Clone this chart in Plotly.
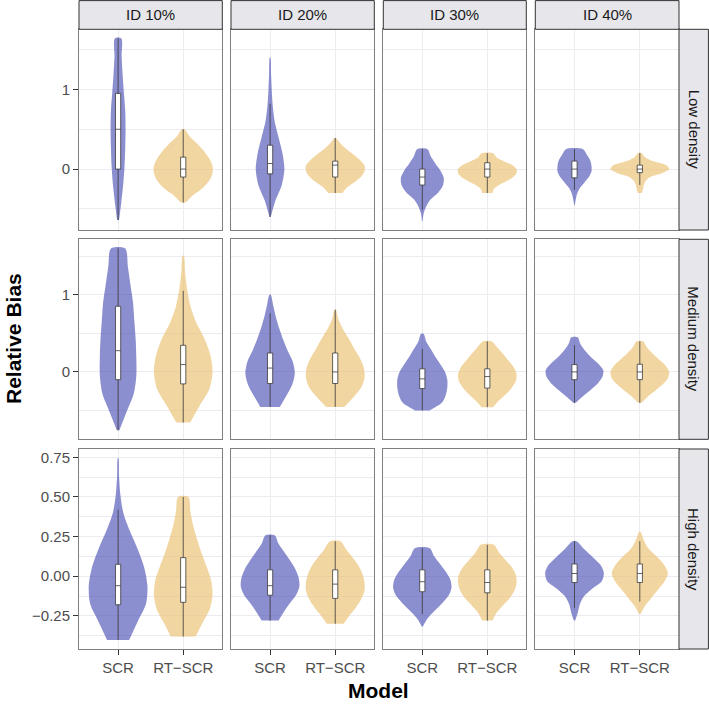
import numpy as np
import plotly.graph_objects as go

# ---------------- data ----------------
ROWS = ["Low density", "Medium density", "High density"]
COLS = ["ID 10%", "ID 20%", "ID 30%", "ID 40%"]
MODELS = ["SCR", "RT\u2212SCR"]

# violin extents (per column) and half-width profiles (evenly spaced from min to max)
LOW_SCR_YMIN = [-0.64, -0.60, -0.65, -0.45]
LOW_SCR_YMAX = [1.64, 1.40, 0.25, 0.25]
LOW_SCR_W = [
    [0.015, 0.05, 0.08, 0.10, 0.11, 0.115, 0.11, 0.09, 0.07, 0.055, 0.05],
    [0.01, 0.08, 0.18, 0.22, 0.19, 0.13, 0.07, 0.04, 0.025, 0.015, 0.005],
    [0.005, 0.02, 0.06, 0.13, 0.25, 0.32, 0.33, 0.28, 0.20, 0.13, 0.08],
    [0.005, 0.02, 0.04, 0.08, 0.15, 0.22, 0.26, 0.26, 0.24, 0.19, 0.13],
]
LOW_RT_YMIN = [-0.42, -0.30, -0.30, -0.30]
LOW_RT_YMAX = [0.50, 0.39, 0.20, 0.20]
LOW_RT_W = [
    [0.04, 0.15, 0.30, 0.40, 0.45, 0.45, 0.40, 0.32, 0.22, 0.10, 0.02],
    [0.11, 0.18, 0.30, 0.40, 0.45, 0.45, 0.38, 0.28, 0.17, 0.08, 0.01],
    [0.08, 0.10, 0.18, 0.30, 0.40, 0.45, 0.45, 0.38, 0.25, 0.14, 0.09],
    [0.03, 0.05, 0.06, 0.09, 0.16, 0.35, 0.45, 0.40, 0.20, 0.08, 0.03],
]
MED_SCR_YMIN = [-0.755, -0.453, -0.50, -0.40]
MED_SCR_YMAX = [1.60, 1.00, 0.495, 0.448]
MED_SCR_W = [
    [0.02, 0.13, 0.24, 0.28, 0.28, 0.27, 0.25, 0.23, 0.19, 0.15, 0.11],
    [0.15, 0.25, 0.34, 0.38, 0.35, 0.27, 0.20, 0.14, 0.09, 0.05, 0.01],
    [0.11, 0.30, 0.36, 0.385, 0.385, 0.35, 0.28, 0.20, 0.13, 0.06, 0.02],
    [0.02, 0.13, 0.25, 0.36, 0.43, 0.44, 0.36, 0.25, 0.16, 0.09, 0.05],
]
MED_RT_YMIN = [-0.656, -0.453, -0.457, -0.40]
MED_RT_YMAX = [1.505, 0.806, 0.396, 0.396]
MED_RT_W = [
    [0.107, 0.25, 0.40, 0.45, 0.42, 0.33, 0.20, 0.11, 0.06, 0.03, 0.01],
    [0.14, 0.28, 0.40, 0.45, 0.44, 0.38, 0.29, 0.21, 0.12, 0.05, 0.01],
    [0.09, 0.18, 0.29, 0.38, 0.44, 0.45, 0.41, 0.33, 0.25, 0.16, 0.065],
    [0.03, 0.12, 0.24, 0.35, 0.43, 0.45, 0.40, 0.30, 0.20, 0.11, 0.05],
]
HIGH_SCR_YMIN = [-0.402, -0.28, -0.317, -0.28]
HIGH_SCR_YMAX = [0.745, 0.258, 0.177, 0.22]
HIGH_SCR_W = [
    [0.17, 0.30, 0.43, 0.45, 0.40, 0.30, 0.18, 0.08, 0.035, 0.015, 0.005],
    [0.13, 0.21, 0.30, 0.40, 0.45, 0.44, 0.39, 0.31, 0.22, 0.13, 0.07],
    [0.01, 0.08, 0.19, 0.31, 0.41, 0.45, 0.43, 0.36, 0.27, 0.18, 0.115],
    [0.01, 0.05, 0.08, 0.14, 0.27, 0.42, 0.45, 0.40, 0.28, 0.15, 0.03],
]
HIGH_RT_YMIN = [-0.381, -0.30, -0.28, -0.24]
HIGH_RT_YMAX = [0.50, 0.22, 0.198, 0.28]
HIGH_RT_W = [
    [0.19, 0.30, 0.41, 0.45, 0.43, 0.36, 0.28, 0.21, 0.15, 0.11, 0.08],
    [0.13, 0.22, 0.32, 0.40, 0.45, 0.45, 0.42, 0.36, 0.27, 0.17, 0.08],
    [0.08, 0.14, 0.24, 0.35, 0.42, 0.45, 0.44, 0.38, 0.28, 0.18, 0.10],
    [0.01, 0.08, 0.18, 0.28, 0.38, 0.43, 0.37, 0.26, 0.13, 0.06, 0.01],
]

# box-plot statistics per column
LOW_SCR_Q1 = [0.0, -0.06, -0.20, -0.11]
LOW_SCR_MED = [0.5, 0.07, -0.10, 0.0]
LOW_SCR_Q3 = [0.95, 0.30, 0.0, 0.10]
LOW_SCR_LO = [-0.64, -0.60, -0.51, -0.26]
LOW_SCR_HI = [1.64, 0.82, 0.25, 0.25]
LOW_RT_Q1 = [-0.10, -0.10, -0.10, -0.045]
LOW_RT_MED = [0.0, 0.05, 0.0, 0.0]
LOW_RT_Q3 = [0.15, 0.10, 0.08, 0.05]
LOW_RT_LO = [-0.42, -0.30, -0.30, -0.20]
LOW_RT_HI = [0.50, 0.39, 0.20, 0.20]

MED_SCR_Q1 = [-0.10, -0.15, -0.215, -0.10]
MED_SCR_MED = [0.275, 0.05, -0.09, 0.0]
MED_SCR_Q3 = [0.85, 0.245, 0.04, 0.095]
MED_SCR_LO = [-0.755, -0.453, -0.50, -0.40]
MED_SCR_HI = [1.60, 0.76, 0.30, 0.345]
MED_RT_Q1 = [-0.155, -0.15, -0.21, -0.10]
MED_RT_MED = [0.095, 0.0, -0.06, 0.0]
MED_RT_Q3 = [0.345, 0.245, 0.04, 0.10]
MED_RT_LO = [-0.656, -0.453, -0.457, -0.40]
MED_RT_HI = [1.05, 0.806, 0.396, 0.396]

HIGH_SCR_Q1 = [-0.18, -0.12, -0.098, -0.04]
HIGH_SCR_MED = [-0.06, -0.06, -0.035, 0.017]
HIGH_SCR_Q3 = [0.075, 0.04, 0.04, 0.077]
HIGH_SCR_LO = [-0.402, -0.28, -0.24, -0.20]
HIGH_SCR_HI = [0.42, 0.258, 0.177, 0.22]
HIGH_RT_Q1 = [-0.165, -0.14, -0.105, -0.04]
HIGH_RT_MED = [-0.07, -0.05, -0.04, 0.017]
HIGH_RT_Q3 = [0.117, 0.04, 0.04, 0.077]
HIGH_RT_LO = [-0.381, -0.30, -0.28, -0.16]
HIGH_RT_HI = [0.50, 0.22, 0.198, 0.22]

# y-axis ticks per row
ROW_TICKS = [[0, 1], [0, 1], [-0.25, 0, 0.25, 0.5, 0.75]]
ROW_TICKTEXT = [["0", "1"], ["0", "1"], ["\u22120.25", "0.00", "0.25", "0.50", "0.75"]]
ROW_MINOR = [[-0.5, 0.5, 1.5], [-0.5, 0.5, 1.5], [-0.375, -0.125, 0.125, 0.375, 0.625]]

# ---------------- assemble ----------------
VIOLIN = {
    0: [(LOW_SCR_YMIN, LOW_SCR_YMAX, LOW_SCR_W), (LOW_RT_YMIN, LOW_RT_YMAX, LOW_RT_W)],
    1: [(MED_SCR_YMIN, MED_SCR_YMAX, MED_SCR_W), (MED_RT_YMIN, MED_RT_YMAX, MED_RT_W)],
    2: [(HIGH_SCR_YMIN, HIGH_SCR_YMAX, HIGH_SCR_W), (HIGH_RT_YMIN, HIGH_RT_YMAX, HIGH_RT_W)],
}
BOX = {
    0: [(LOW_SCR_Q1, LOW_SCR_MED, LOW_SCR_Q3, LOW_SCR_LO, LOW_SCR_HI),
        (LOW_RT_Q1, LOW_RT_MED, LOW_RT_Q3, LOW_RT_LO, LOW_RT_HI)],
    1: [(MED_SCR_Q1, MED_SCR_MED, MED_SCR_Q3, MED_SCR_LO, MED_SCR_HI),
        (MED_RT_Q1, MED_RT_MED, MED_RT_Q3, MED_RT_LO, MED_RT_HI)],
    2: [(HIGH_SCR_Q1, HIGH_SCR_MED, HIGH_SCR_Q3, HIGH_SCR_LO, HIGH_SCR_HI),
        (HIGH_RT_Q1, HIGH_RT_MED, HIGH_RT_Q3, HIGH_RT_LO, HIGH_RT_HI)],
}

FILLS = ["rgba(70,75,178,0.62)", "rgba(235,192,112,0.65)"]
BOX_LINE = "#3A3A3A"
BOX_HALF = 0.04
W, H = 709, 707
COL_PX = [(79, 222.3), (231, 374.3), (383.3, 526.3), (535.3, 679)]
ROW_PX = [(29.3, 230), (239.3, 439.3), (449, 649)]
FONT = "Liberation Sans, Arial, Helvetica, sans-serif"
GRID = "#EBEBF0"

def px2x(p):
    return p / W

def px2y(p):
    return 1 - p / H

fig = go.Figure()
layout = {}
shapes = []
annotations = []

for r in range(3):
    # y range from the data, expanded 5%
    lo = min(min(VIOLIN[r][m][0]) for m in range(2))
    hi = max(max(VIOLIN[r][m][1]) for m in range(2))
    pad = 0.05 * (hi - lo)
    yr = [lo - pad, hi + pad]
    for c in range(4):
        n = r * 4 + c + 1
        xa = "x" if n == 1 else f"x{n}"
        ya = "y" if n == 1 else f"y{n}"
        common = dict(hoverinfo="skip", showlegend=False, xaxis=xa, yaxis=ya)
        for m in range(2):
            pos = m + 1
            ymin, ymax, wl = VIOLIN[r][m]
            w = np.array(wl[c])
            ys = np.linspace(ymin[c], ymax[c], len(w))
            xs = np.concatenate([pos + w, (pos - w)[::-1]])
            yy = np.concatenate([ys, ys[::-1]])
            fig.add_trace(go.Scatter(
                x=xs, y=yy, mode="lines", fill="toself",
                fillcolor=FILLS[m],
                line=dict(width=0, color="rgba(0,0,0,0)", shape="spline", smoothing=0.8),
                **common))
        for m in range(2):
            pos = m + 1
            q1, med, q3, lf, uf = BOX[r][m]
            # whisker
            fig.add_trace(go.Scatter(
                x=[pos, pos], y=[lf[c], uf[c]], mode="lines",
                line=dict(color=BOX_LINE, width=0.8), **common))
            # box body
            fig.add_trace(go.Scatter(
                x=[pos - BOX_HALF, pos + BOX_HALF, pos + BOX_HALF, pos - BOX_HALF, pos - BOX_HALF],
                y=[q1[c], q1[c], q3[c], q3[c], q1[c]],
                mode="lines", fill="toself", fillcolor="white",
                line=dict(color=BOX_LINE, width=0.8), **common))
            # median
            fig.add_trace(go.Scatter(
                x=[pos - BOX_HALF, pos + BOX_HALF], y=[med[c], med[c]], mode="lines",
                line=dict(color=BOX_LINE, width=0.8), **common))

        x0, x1 = COL_PX[c]
        y0, y1 = ROW_PX[r]
        kx = "xaxis" if n == 1 else f"xaxis{n}"
        ky = "yaxis" if n == 1 else f"yaxis{n}"
        bottom = r == 2
        left = c == 0
        layout[kx] = dict(
            domain=[px2x(x0), px2x(x1)], anchor=ya, range=[0.4, 2.6],
            tickvals=[1, 2], ticktext=MODELS, showticklabels=bottom,
            ticks="outside" if bottom else "", ticklen=5, tickcolor="#333333", tickwidth=1,
            tickfont=dict(family=FONT, size=15, color="#4D4D4D"),
            showgrid=True, gridcolor=GRID, gridwidth=1, zeroline=False,
            showline=True, mirror=True, linecolor="#7F7F7F", linewidth=1,
            fixedrange=True)
        layout[ky] = dict(
            domain=[px2y(y1), px2y(y0)], anchor=xa, range=yr,
            tickvals=ROW_TICKS[r], ticktext=ROW_TICKTEXT[r], showticklabels=left,
            ticks="outside" if left else "", ticklen=5, tickcolor="#333333", tickwidth=1,
            tickfont=dict(family=FONT, size=15, color="#4D4D4D"),
            showgrid=True, gridcolor=GRID, gridwidth=1, zeroline=False,
            minor=dict(tickvals=ROW_MINOR[r], showgrid=True, gridcolor=GRID, gridwidth=0.6, ticks=""),
            showline=True, mirror=True, linecolor="#7F7F7F", linewidth=1,
            fixedrange=True)

# strips
STRIP_FILL = "#E6E6EB"
for c, label in enumerate(COLS):
    x0, x1 = COL_PX[c]
    shapes.append(dict(type="rect", xref="paper", yref="paper",
                       x0=px2x(x0), x1=px2x(x1), y0=px2y(29.3), y1=px2y(0.6),
                       fillcolor=STRIP_FILL, line=dict(color="#333333", width=1), layer="above"))
    annotations.append(dict(text=label, xref="paper", yref="paper",
                            x=px2x((x0 + x1) / 2), y=px2y(15), showarrow=False,
                            xanchor="center", yanchor="middle",
                            font=dict(family=FONT, size=15, color="#1A1A1A")))
for r, label in enumerate(ROWS):
    y0, y1 = ROW_PX[r]
    shapes.append(dict(type="rect", xref="paper", yref="paper",
                       x0=px2x(679), x1=px2x(708.4), y0=px2y(y1), y1=px2y(y0),
                       fillcolor=STRIP_FILL, line=dict(color="#333333", width=1), layer="above"))
    annotations.append(dict(text=label, xref="paper", yref="paper",
                            x=px2x(694), y=px2y((y0 + y1) / 2), showarrow=False,
                            textangle=90, xanchor="center", yanchor="middle",
                            font=dict(family=FONT, size=15, color="#1A1A1A")))

annotations.append(dict(text="<b>Relative Bias</b>", xref="paper", yref="paper",
                        x=px2x(13), y=px2y(339), showarrow=False, textangle=-90,
                        xanchor="center", yanchor="middle",
                        font=dict(family=FONT, size=21, color="black")))
annotations.append(dict(text="<b>Model</b>", xref="paper", yref="paper",
                        x=px2x(379), y=px2y(690), showarrow=False,
                        xanchor="center", yanchor="middle",
                        font=dict(family=FONT, size=21, color="black")))

fig.update_layout(
    width=W, height=H, margin=dict(l=0, r=0, t=0, b=0),
    paper_bgcolor="white", plot_bgcolor="white",
    shapes=shapes, annotations=annotations, showlegend=False,
    **layout)

fig.write_html(
    "out.html",
    config={"displayModeBar": False},
    post_script="document.body.style.margin='0';document.body.style.overflow='hidden';",
)
